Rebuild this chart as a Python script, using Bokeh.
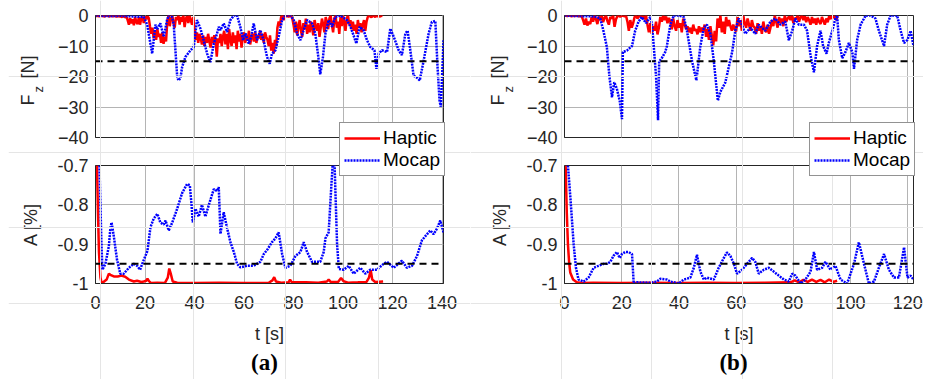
import math
from bokeh.plotting import figure
from bokeh.models import Range1d, FixedTicker, Grid, Span, Legend, LegendItem, Label
from bokeh.layouts import column, row
from bokeh.embed import file_html
from bokeh.resources import INLINE

# ---------------- axes / ticks ----------------
FZ_TICKS = [-40, -30, -20, -10, 0]
A_TICKS = [-1.0, -0.9, -0.8, -0.7]
A_TICK_LABELS = ["-1", "-0.9", "-0.8", "-0.7"]
X_TICKS_A = [0, 20, 40, 60, 80, 100, 120, 140]
X_TICKS_B = [0, 20, 40, 60, 80, 100, 120]
X_END_A = 140.6
X_END_B = 122.0
FZ_LIMIT = -15
A_LIMIT = -0.95
SERIES_NAMES = ["Haptic", "Mocap"]
PANEL_NAMES = ["(a)", "(b)"]

# ---------------- panel (a) ----------------
HAPTIC_STEP = 0.5  # sampling interval [s] of the haptic force traces
A_HAPTIC_FZ = [
    0, -0.2, -0.1, -0.3, 0, -0.2, -0.1, -0.3, -0.2, 0, -0.1, -0.3, -0.2, -0.1, -0.3, 0, -0.2, -0.4, -0.1, -0.3, -0.2, -0.5, -0.3, -0.2, -0.6, -0.4,
    -1.5, -3.0, -0.8, -2.6, -1.2, -3.2, -0.5, -2.2, -2.8, -0.6, -3.0, -1.0, -0.4, -2.5,
    -0.3, -1.2, -0.2, -0.8,
    -3.5, -6.0, -4.0, -7.5, -5.0, -8.0, -4.5, -7.0, -6.0, -9.0, -5.5, -9.3, -7.0, -8.5,
    -2.0, 0, -3.5, -1.0, 0, -2.5, -4.0, -0.5, -1.5, 0, -3.0, -0.5, -2.0, 0, -3.8, -1.0, -0.2, -2.5, 0, -1.5, -3.0, -0.5,
    -4.5, -8.0, -5.5, -9.0, -6.0,
    -7.5, -9.5, -6.5, -10.0, -7.0, -9.0, -6.0, -8.5, -10.5, -7.0, -9.0, -6.5, -8.0, -13.5, -7.5, -9.0, -6.0, -10.0, -7.0,
    -5.0, -9.5, -6.0, -11.0, -4.5, -8.0, -10.0, -5.5, -9.0, -6.5, -11.0, -5.0, -8.5, -6.0, -10.5, -7.0,
    -5.5, -9.0, -6.5, -8.0, -5.0, -9.5, -7.0, -6.0, -8.5, -5.5, -9.0, -6.5, -7.5, -5.0, -8.0, -6.0, -9.0, -5.5, -7.0,
    -8.0, -10.0, -6.5, -11.5, -9.0, -12.5, -8.0, -10.0,
    -4.0, -2.0, -3.5, -0.5, 0, -1.5, 0, -0.3, 0, -0.5, 0, -0.2, -0.8,
    -3.0, -5.5, -2.0, -6.5, -3.5, -1.5, -5.0, -7.0, -2.5, -4.5, -1.0, -6.0, -3.0, -5.5, -2.0, -4.0, -6.5, -1.5, -3.5, -5.0, -2.5, -7.0, -4.0, -1.0, -3.0, -5.5, -0.5, -2.0, -4.5, -1.0,
    0, -3.0, -5.5, -1.0, 0, -4.0, -2.0, -6.0, -0.5, -3.5, 0, -2.5, -5.0, -1.0, 0, -3.0, -1.5, -4.5,
    -2.0, -5.0, -3.0, -6.0, -1.5, -4.0, -2.5, -5.5, -3.0, -1.5, -5.0, -2.0,
    -0.5, 0, -0.3, -0.6, 0, -0.2, -0.5, 0, -0.3, -0.1, -0.4, 0, -0.2,
]
A_MOCAP_FZ_T = [0, 5, 10, 15, 19.5, 20.9, 21.5, 22.9, 24.2, 24.9, 26.2, 27.6, 28.9, 29.6, 31.0, 31.6, 33.0, 33.5, 34.3, 35.0,
                36.3, 38.4, 39.7, 41.0, 42.4, 43.7, 45.1, 46.4, 47.8, 49.1, 49.8, 50.5, 51.8, 53.2, 54.5, 55.9, 57.2, 58.5, 59.6, 60.6,
                61.9, 62.9, 63.9, 65.3, 66.6, 67.9, 69.3, 70.4, 71.3, 72.7, 74.0, 75.4, 76.7, 78.7, 80.1, 81.4, 82.8, 84.1, 85.5, 87.5,
                88.8, 90.2, 90.8, 91.9, 92.9, 94.2, 95.6, 96.9, 98.9, 101.6, 103.0, 104.0, 105.4, 106.7, 108.3, 109.7, 111.0, 112.7, 113.5, 114.4,
                115.7, 117.8, 119.1, 120.5, 122.5, 123.8, 125.2, 126.1, 127.2, 128.5, 129.9, 131.0, 132.6, 134.6, 135.9, 137.3, 138.2, 139.0, 139.5, 140.3,
                140.6]
A_MOCAP_FZ = [0, -0.2, -0.1, -0.3, -0.5, -3.0, -6.0, -12.5, -3.0, -4.5, -2.6, -7.0, -1.5, 0, -0.5, -3.0, -20.0, -21.3, -20.5, -16.9,
              -13.6, -11.4, -10.3, -1.5, -4.3, -8.1, -12.5, -15.3, -9.2, -5.9, -3.7, -4.8, -2.6, -5.4, -1.5, 0, 0, -3.7, -8.1, -5.9,
              -9.2, -7.0, -2.6, -8.1, -4.8, -8.1, -13.6, -15.8, -12.5, -11.4, -7.0, -1.5, 0, 0, -1.5, -5.9, -8.1, -4.8, -1.5, -2.6,
              -5.9, -14.7, -19.3, -13.6, -5.9, -1.5, -3.7, -0.4, 0, -1.5, -3.7, -5.9, -9.2, -3.7, -4.8, -8.1, -10.3, -11.4, -17.5, -12.5,
              -11.4, -12.0, -4.3, -7.0, -11.4, -13.0, -5.9, -5.0, -11.4, -19.7, -20.4, -21.3, -14.7, -5.9, -2.1, -1.8, -16.9, -27.9, -29.9, -14.7,
              -8.1]
A_HAPTIC_A_T = [0.6, 1.0, 1.4, 2.0, 2.5, 3.5, 4.5, 5.4, 6.0, 7.4, 9.0, 10.5, 12.0, 13.5, 15.5, 16.8, 18.5, 19.5, 20.5, 21.0,
                21.6, 22.5, 25.0, 28.0, 29.2, 29.8, 30.4, 31.2, 33.0, 40.0, 50.0, 60.0, 70.0, 71.5, 72.2, 72.9, 75.0, 78.0, 78.6, 79.2,
                85.0, 90.0, 93.5, 94.2, 95.0, 98.0, 99.2, 100.2, 102.0, 106.0, 109.5, 110.5, 111.2, 111.8, 113.0, 116.2]
A_HAPTIC_A = [-0.70, -0.82, -0.92, -0.985, -1.0, -0.995, -0.99, -0.975, -0.978, -0.982, -0.982, -0.98, -0.983, -0.99, -0.995, -0.993, -0.996, -0.995, -0.993, -0.988,
              -0.994, -0.999, -0.998, -0.999, -0.985, -0.962, -0.975, -0.995, -0.998, -0.999, -0.998, -0.999, -0.998, -0.992, -0.984, -0.995, -0.998, -0.997, -0.99, -0.996,
              -0.997, -0.998, -0.995, -0.99, -0.996, -0.996, -0.986, -0.994, -0.998, -0.997, -0.996, -0.985, -0.966, -0.99, -0.996, -0.995]
A_MOCAP_A_T = [1.6, 2.0, 2.4, 2.8, 4.0, 5.4, 6.0, 6.5, 7.4, 8.7, 10.0, 11.4, 13.5, 15.5, 16.8, 18.0, 19.5, 21.0, 22.2, 23.5,
               25.0, 26.2, 27.6, 28.3, 29.6, 31.0, 33.0, 35.0, 37.0, 38.1, 38.8, 39.3, 40.4, 41.7, 43.0, 44.4, 45.8, 47.8, 49.1, 49.8,
               50.5, 51.8, 53.2, 54.5, 55.9, 57.2, 58.5, 61.2, 63.9, 66.6, 68.0, 69.3, 71.3, 72.7, 74.0, 75.4, 76.7, 78.7, 80.8, 82.8,
               84.1, 85.5, 87.5, 90.8, 92.2, 92.9, 94.2, 95.3, 95.8, 96.6, 97.6, 98.3, 100.3, 102.3, 104.3, 107.0, 109.0, 111.0, 113.7, 116.4,
               117.8, 120.5, 123.8, 125.8, 127.9, 129.9, 131.9, 133.9, 135.3, 136.6, 138.0, 139.3, 140.6]
A_MOCAP_A = [-0.70, -0.80, -0.90, -0.965, -0.95, -0.905, -0.86, -0.845, -0.88, -0.94, -0.975, -0.975, -0.96, -0.95, -0.955, -0.965, -0.94, -0.917, -0.857, -0.835,
             -0.823, -0.845, -0.85, -0.84, -0.865, -0.845, -0.81, -0.77, -0.747, -0.75, -0.80, -0.845, -0.81, -0.83, -0.80, -0.83, -0.80, -0.76, -0.765, -0.755,
             -0.874, -0.819, -0.86, -0.895, -0.92, -0.95, -0.959, -0.955, -0.955, -0.945, -0.925, -0.915, -0.895, -0.885, -0.87, -0.925, -0.96, -0.955, -0.93, -0.92,
             -0.895, -0.92, -0.945, -0.945, -0.92, -0.885, -0.87, -0.75, -0.70, -0.70, -0.90, -0.963, -0.965, -0.955, -0.975, -0.96, -0.975, -0.965, -0.965, -0.95,
             -0.945, -0.96, -0.942, -0.96, -0.955, -0.93, -0.89, -0.875, -0.865, -0.875, -0.86, -0.84, -0.87]

# ---------------- panel (b) ----------------
B_HAPTIC_FZ = [
    0, -0.1, -0.2, 0, -0.1, -0.3, 0, -0.2, -0.1, 0, -0.3, -0.1, -0.2,
    -1.5, -3.0, -1.0, -3.3, -2.0, -2.8,
    -0.5, -2.0, 0, -1.2, -2.8, -0.3, -1.5, 0, -2.2, -0.8, 0, -1.8, -3.0, -0.5, -1.0, 0, -3.7, -1.2,
    -0.2, 0, -0.4, -0.1, 0, -0.3, -0.1,
    -2.0, -5.0, -1.5, -4.0, -2.5,
    -0.5, 0, -1.0, -0.3, 0, -0.8, -0.2, -1.2, 0,
    -3.0, -5.5, -2.5, -6.0, -3.5, -5.0, -2.0, -6.2, -4.0,
    -0.5, -2.0, 0, -1.5, -0.3, -2.5, -0.8,
    -2.0, -4.5, -1.0, -3.5, -5.0, -1.5, -4.0, -2.5, -5.5, -1.0, -3.0, -4.5,
    -3.5, -5.5, -4.0, -6.0, -3.0, -5.0, -4.5, -6.2, -3.5, -5.5, -4.0, -5.0,
    -3.0, -7.0, -4.5, -8.0, -3.5, -6.5, -9.8, -5.0, -8.5,
    -1.0, -4.0, 0, -5.5, -2.0, -6.0, -0.5, -3.5, -1.5,
    -3.5, -5.0, -3.0, -4.5, -5.2,
    -0.5, -3.5, -1.5, -5.0, 0, -2.5, -4.0, -1.0, -3.0, -5.0, -1.5, -3.5,
    -4.0, -6.0, -2.5, -5.0, -3.5, -6.0, -2.0, -4.5, -5.5, -3.0, -6.0, -4.0,
    -1.5, -3.5, 0, -2.0, -4.0, -0.5, -2.5, -1.0, -3.5, 0, -2.0, -1.0,
    -0.3, -1.5, 0, -2.5, -0.8, -1.2, 0, -2.0, -0.5, 0, -1.5, -0.2, -2.2, -0.5,
    -1.5, -3.0, -0.5, -2.5, -1.0, -3.0, -0.8, -2.0, -2.8, -0.5, -1.8, -3.0, -1.0, -2.2,
    -0.3, -1.2, 0, -0.8, -0.2, -1.5, 0,
]
B_MOCAP_FZ_T = [0, 5, 10, 11.3, 12.5, 13.6, 14.8, 15.7, 16.6, 17.4, 18.3, 19.3, 20.1, 20.4, 21.8, 23.6, 24.7, 25.9, 27.0, 28.5,
                30.0, 30.6, 31.2, 32.0, 32.7, 33.1, 34.0, 35.2, 35.8, 37.0, 38.2, 40.0, 41.7, 42.8, 44.6, 46.1, 47.5, 48.7, 49.8, 51.0,
                52.2, 53.6, 54.5, 56.2, 57.4, 58.6, 59.7, 60.9, 62.0, 63.2, 65.0, 66.7, 67.9, 69.0, 70.2, 72.0, 73.7, 75.5, 77.2, 78.4,
                79.6, 80.7, 81.9, 83.7, 84.8, 86.0, 87.2, 88.3, 89.5, 90.4, 91.6, 92.4, 93.6, 94.7, 95.3, 95.9, 97.1, 98.2, 99.4, 100.6,
                101.2, 102.3, 103.5, 105.3, 107.0, 108.7, 109.9, 111.7, 112.8, 114.0, 116.3, 117.5, 118.7, 119.9, 121.0, 122.0]
B_MOCAP_FZ = [0, -0.2, -0.3, -0.5, -1.0, -5.0, -10.3, -20.0, -26.8, -21.9, -24.0, -28.0, -34.0, -12.0, -11.5, -10.0, -5.0, -2.0, -0.5, -2.5,
              -0.5, -3.0, -10.0, -20.0, -34.3, -15.0, -14.0, -12.0, -10.0, -3.0, 0, 0, -0.5, -5.0, -15.0, -21.3, -10.0, -4.0, -3.0, -6.0,
              -15.0, -27.9, -25.0, -22.0, -17.0, -12.0, -5.0, -1.0, -3.0, -6.0, -4.0, -6.0, -3.0, -4.0, -5.0, -2.0, -1.0, -3.0, -2.0, -8.1,
              -5.0, -1.0, -3.0, -3.0, -5.0, -13.0, -18.6, -10.0, -5.0, -10.0, -12.5, -9.0, -5.0, -1.0, 0, -8.0, -14.0, -12.0, -9.0, -12.0,
              -17.5, -8.0, -3.0, 0, 0, -1.0, -5.0, -10.0, -3.0, 0, 0, -5.0, -9.0, -8.0, -5.0, -10.0]
B_HAPTIC_A_T = [0.4, 0.8, 1.2, 1.6, 2.0, 3.0, 4.3, 6.0, 10.0, 20.0, 30.0, 40.0, 50.0, 60.0, 70.0, 79.0, 80.5, 82.0, 83.5, 85.0,
                86.5, 88.0, 89.5, 91.0, 92.5, 94.0, 95.3]
B_HAPTIC_A = [-0.70, -0.82, -0.90, -0.945, -0.972, -0.99, -0.997, -0.999, -0.998, -0.999, -0.998, -0.999, -0.998, -0.999, -0.998, -0.997, -0.992, -0.997, -0.991, -0.996,
              -0.99, -0.996, -0.991, -0.997, -0.99, -0.996, -0.993]
B_MOCAP_A_T = [1.2, 2.0, 3.2, 4.0, 4.9, 6.7, 8.4, 10.2, 11.9, 13.7, 14.8, 16.0, 17.2, 18.3, 19.3, 20.1, 21.2, 22.4, 23.6, 24.2,
               25.3, 30.0, 32.3, 33.5, 35.8, 37.0, 39.9, 41.7, 44.0, 45.2, 46.3, 47.5, 48.7, 49.8, 52.2, 53.9, 55.7, 56.8, 58.0, 59.2,
               60.3, 62.1, 63.8, 65.6, 66.7, 67.9, 69.7, 71.4, 73.2, 74.9, 76.7, 78.4, 79.6, 80.7, 82.5, 84.2, 86.0, 87.2, 88.3, 90.1,
               91.2, 93.0, 94.7, 96.5, 98.8, 101.2, 102.9, 104.7, 106.4, 108.2, 109.9, 111.7, 113.4, 115.2, 116.9, 118.7, 119.9, 121.0, 122.0]
B_MOCAP_A = [-0.70, -0.776, -0.90, -0.96, -0.99, -0.995, -0.985, -0.96, -0.955, -0.95, -0.95, -0.945, -0.929, -0.92, -0.935, -0.925, -0.92, -0.92, -0.925, -1.0,
             -0.997, -0.998, -0.995, -0.988, -0.99, -0.995, -1.0, -0.99, -0.985, -0.96, -0.927, -0.97, -0.99, -0.985, -0.99, -0.96, -0.935, -0.921, -0.93, -0.95,
             -0.975, -0.965, -0.95, -0.935, -0.945, -0.975, -0.965, -0.96, -0.97, -0.98, -0.99, -0.995, -0.975, -0.98, -1.0, -0.99, -0.97, -0.92, -0.965, -0.96,
             -0.945, -0.965, -0.955, -0.99, -1.0, -0.95, -0.895, -0.95, -1.0, -0.995, -0.96, -0.925, -0.965, -0.985, -0.985, -0.908, -0.985, -0.98, -0.99]

# ---------------- style ----------------
FONT = "Liberation Sans"
TXT = "#262626"
GRID = "#b4b4b4"
FRAME = "#262626"
RED = "#ff0000"
BLUE = "#0000ff"
TICK_FS = "18px"
LABEL_FS = "18px"

TOP_H = 149      # canvas of the force plot (frame 15..137)
BOT_H = 248      # canvas of the A plot (frame 165..283)
OVERLAP = 26
PANEL_H = TOP_H + BOT_H - OVERLAP   # 371
OVL_H = PANEL_H + 8                 # overlay reaches the bottom of the window
DY = OVL_H - PANEL_H


def sample_times(values):
    return [i * HAPTIC_STEP for i in range(len(values))]


def style_y(ax):
    ax.major_label_text_font = FONT
    ax.major_label_text_font_size = TICK_FS
    ax.major_label_text_color = TXT
    ax.major_tick_in = 0
    ax.major_tick_out = 0
    ax.minor_tick_in = 0
    ax.minor_tick_out = 0
    ax.major_label_standoff = 7
    ax.axis_line_color = FRAME


def fz_figure(width, left, right, x_end, x_ticks, t_h, v_h, t_m, v_m):
    p = figure(width=width, height=TOP_H, x_range=Range1d(0, x_end),
               y_range=Range1d(FZ_TICKS[0], FZ_TICKS[-1]),
               x_axis_location=None, output_backend="svg", toolbar_location=None,
               min_border_left=left, min_border_right=right, min_border_top=15, min_border_bottom=12,
               background_fill_color="white", border_fill_color=None,
               outline_line_color=FRAME, outline_line_width=1)
    p.yaxis.ticker = FixedTicker(ticks=FZ_TICKS)
    style_y(p.yaxis)
    p.ygrid.grid_line_color = GRID
    p.add_layout(Grid(dimension=0, ticker=FixedTicker(ticks=x_ticks), grid_line_color=GRID))
    p.line(t_h, v_h, line_color=RED, line_width=2.5)
    p.line(t_m, v_m, line_color=BLUE, line_width=2.5, line_dash="2 1")
    p.add_layout(Span(location=FZ_LIMIT, dimension="width", line_color="black",
                      line_width=2, line_dash="7 5"))
    return p


def a_figure(width, left, right, x_end, x_ticks, t_h, v_h, t_m, v_m):
    p = figure(width=width, height=BOT_H, x_range=Range1d(0, x_end),
               y_range=Range1d(A_TICKS[0], A_TICKS[-1]),
               output_backend="svg", toolbar_location=None,
               min_border_left=left, min_border_right=right, min_border_top=42, min_border_bottom=88,
               background_fill_color="white", border_fill_color=None,
               outline_line_color=FRAME, outline_line_width=1)
    p.margin = (-OVERLAP, 0, 0, 0)
    p.yaxis.ticker = FixedTicker(ticks=A_TICKS)
    p.yaxis.major_label_overrides = {t: s for t, s in zip(A_TICKS, A_TICK_LABELS)}
    style_y(p.yaxis)
    p.yaxis.axis_label = "A [%]"
    p.yaxis.axis_label_text_font = FONT
    p.yaxis.axis_label_text_font_size = LABEL_FS
    p.yaxis.axis_label_text_font_style = "normal"
    p.yaxis.axis_label_text_color = TXT
    p.yaxis.axis_label_standoff = 13

    p.xaxis.ticker = FixedTicker(ticks=x_ticks)
    xa = p.xaxis[0]
    xa.major_label_text_font = FONT
    xa.major_label_text_font_size = TICK_FS
    xa.major_label_text_color = TXT
    xa.major_tick_in = 0
    xa.major_tick_out = 0
    xa.minor_tick_in = 0
    xa.minor_tick_out = 0
    xa.major_label_standoff = 12
    xa.axis_line_color = FRAME
    xa.axis_label = "t [s]"
    xa.axis_label_text_font = FONT
    xa.axis_label_text_font_size = LABEL_FS
    xa.axis_label_text_font_style = "normal"
    xa.axis_label_text_color = TXT
    xa.axis_label_standoff = 12

    p.xgrid.grid_line_color = GRID
    p.ygrid.grid_line_color = GRID
    p.line(t_h, v_h, line_color=RED, line_width=2.5)
    p.line(t_m, v_m, line_color=BLUE, line_width=2.5, line_dash="2 1")
    p.add_layout(Span(location=A_LIMIT, dimension="width", line_color="black",
                      line_width=2, line_dash="7 5"))
    return p


def overlay_figure(width, t_h, v_h, t_m, v_m, panel_name, legend_x, fz_x, name_x):
    """Transparent layer on top of a panel: legend, F_z label and panel tag."""
    p = figure(width=width, height=OVL_H, x_range=Range1d(0, 1), y_range=Range1d(0, 1),
               x_axis_location=None, y_axis_location=None,
               output_backend="svg", toolbar_location=None, min_border=0,
               outline_line_color=None, background_fill_color=None, border_fill_color=None)
    p.frame_align = False
    p.margin = (-PANEL_H, 0, -DY, 0)
    r_h = p.line(t_h, v_h, line_color=RED, line_width=2.5, visible=False)
    r_m = p.line(t_m, v_m, line_color=BLUE, line_width=2.5, line_dash="2 1", visible=False)
    legend = Legend(items=[LegendItem(label=SERIES_NAMES[0], renderers=[r_h]),
                           LegendItem(label=SERIES_NAMES[1], renderers=[r_m])],
                    location=(legend_x, 195 + DY),
                    label_text_font=FONT, label_text_font_size="19px", label_text_color="black",
                    glyph_width=36, glyph_height=20, label_height=20, label_standoff=3,
                    padding=4, spacing=0, margin=0,
                    border_line_color=FRAME, border_line_width=1,
                    background_fill_color="white", background_fill_alpha=1.0,
                    inactive_fill_alpha=0.0)
    p.add_layout(legend)
    # y label "F_z [N]" of the force plot
    p.add_layout(Label(x=fz_x, y=266 + DY, x_units="screen", y_units="screen", text="F",
                       angle=math.pi / 2, text_align="left", text_baseline="alphabetic",
                       text_font=FONT, text_font_size=LABEL_FS, text_color=TXT))
    p.add_layout(Label(x=fz_x + 11, y=279 + DY, x_units="screen", y_units="screen", text="z",
                       angle=math.pi / 2, text_align="left", text_baseline="alphabetic",
                       text_font=FONT, text_font_size="13px", text_color=TXT))
    p.add_layout(Label(x=fz_x, y=293 + DY, x_units="screen", y_units="screen", text="[N]",
                       angle=math.pi / 2, text_align="left", text_baseline="alphabetic",
                       text_font=FONT, text_font_size=LABEL_FS, text_color=TXT))
    # panel tag
    p.add_layout(Label(x=name_x, y=9 + DY, x_units="screen", y_units="screen", text=panel_name,
                       text_align="center", text_baseline="middle",
                       text_font="Liberation Serif", text_font_style="bold",
                       text_font_size="23px", text_color="black"))
    return p


top_a = fz_figure(462, 87, 27, X_END_A, X_TICKS_A,
                  sample_times(A_HAPTIC_FZ), A_HAPTIC_FZ, A_MOCAP_FZ_T, A_MOCAP_FZ)
bot_a = a_figure(462, 87, 27, X_END_A, X_TICKS_A,
                 A_HAPTIC_A_T, A_HAPTIC_A, A_MOCAP_A_T, A_MOCAP_A)
ovl_a = overlay_figure(462, A_HAPTIC_A_T, A_HAPTIC_A, A_MOCAP_A_T, A_MOCAP_A,
                       PANEL_NAMES[0], 331, 19, 256)
top_b = fz_figure(453, 94, 10, X_END_B, X_TICKS_B,
                  sample_times(B_HAPTIC_FZ), B_HAPTIC_FZ, B_MOCAP_FZ_T, B_MOCAP_FZ)
bot_b = a_figure(453, 94, 10, X_END_B, X_TICKS_B,
                 B_HAPTIC_A_T, B_HAPTIC_A, B_MOCAP_A_T, B_MOCAP_A)
ovl_b = overlay_figure(453, B_HAPTIC_A_T, B_HAPTIC_A, B_MOCAP_A_T, B_MOCAP_A,
                       PANEL_NAMES[1], 339, 27, 263)

layout = row(column(top_a, bot_a, ovl_a, spacing=0),
             column(top_b, bot_b, ovl_b, spacing=0), spacing=0)
layout.margin = (0, 0, 0, 8)

with open("out.html", "w") as f:
    f.write(file_html(layout, INLINE))
